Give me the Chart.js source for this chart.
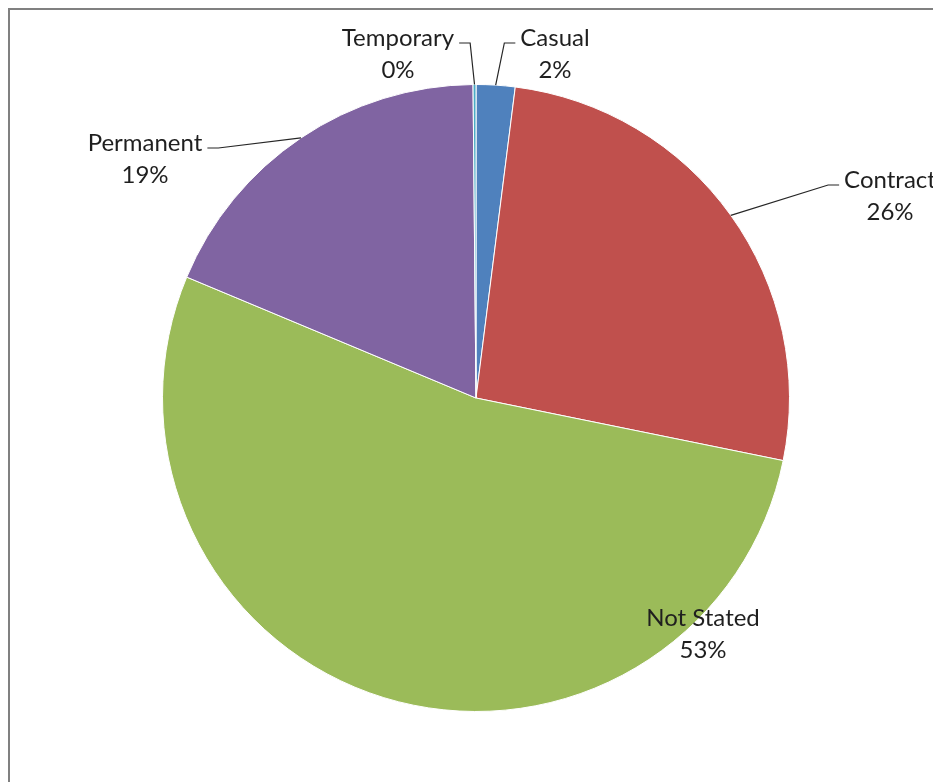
<!DOCTYPE html>
<html>
<head>
<meta charset="utf-8">
<script src="https://cdn.jsdelivr.net/npm/chart.js@4"></script>
<style>
  html, body { margin:0; padding:0; background:#fff; overflow:hidden; }
  #wrap { position:relative; width:933px; height:782px; }
</style>
</head>
<body>
<div id="wrap"><canvas id="pieChart" width="933" height="782"></canvas></div>
<script>
const categories = ["Casual", "Contract", "Not Stated", "Permanent", "Temporary"];
const shares = [2.0, 26.2, 53.1, 18.55, 0.15];
const colors = ["#4F81BD", "#C0504D", "#9BBB59", "#8064A2", "#4BACC6"];
// label block (first line centre) relative to pie centre, and whether a leader line is drawn
const labelOffsets = [[79, -360], [414, -218], [227, 220], [-331, -255], [-78, -360]];
const hasLeader = [true, true, false, true, true];

const total = shares.reduce((a, b) => a + b, 0);

const frame = {
  id: "frame",
  beforeDraw(chart){
    const c = chart.ctx;
    c.save();
    c.fillStyle = "#fff";
    c.fillRect(0, 0, chart.width, chart.height);
    c.strokeStyle = "#808080";
    c.lineWidth = 2;
    c.beginPath();
    c.moveTo(9, chart.height + 5); c.lineTo(9, 9); c.lineTo(chart.width + 5, 9);
    c.stroke();
    c.restore();
  }
};

const pieLabels = {
  id: "pieLabels",
  afterDatasetsDraw(chart){
    const c = chart.ctx;
    const meta = chart.getDatasetMeta(0);
    c.save();
    c.font = "24px Lato";
    c.fillStyle = "#1f1f1f";
    c.textAlign = "center";
    c.textBaseline = "middle";
    meta.data.forEach((arc, i) => {
      const cx = arc.x, cy = arc.y;
      const lx = cx + labelOffsets[i][0], ly = cy + labelOffsets[i][1];
      const pct = Math.round(shares[i] / total * 100) + "%";
      c.fillText(categories[i], lx, ly);
      c.fillText(pct, lx, ly + 32);
      if (hasLeader[i]) {
        const mid = (arc.startAngle + arc.endAngle) / 2;
        const r = arc.outerRadius;
        const px = cx + Math.cos(mid) * r, py = cy + Math.sin(mid) * r;
        const half = c.measureText(categories[i]).width / 2;
        const side = lx < px ? 1 : -1;
        const ex = lx + side * (half + 5);
        const ey = ly + 5;
        const kx = ex + side * 11;
        c.strokeStyle = "#262626";
        c.lineWidth = 1.2;
        c.beginPath();
        c.moveTo(px, py); c.lineTo(kx, ey); c.lineTo(ex, ey);
        c.stroke();
      }
    });
    c.restore();
  }
};

new Chart(document.getElementById("pieChart").getContext("2d"), {
  type: "pie",
  data: {
    labels: categories,
    datasets: [{ data: shares, backgroundColor: colors, borderColor: "#ffffff", borderWidth: 1 }]
  },
  options: {
    responsive: false,
    animation: false,
    layout: { padding: { top: 84, bottom: 70, left: 162, right: 143 } },
    plugins: { legend: { display: false }, tooltip: { enabled: false } },
    events: []
  },
  plugins: [frame, pieLabels]
});
</script>
</body>
</html>
